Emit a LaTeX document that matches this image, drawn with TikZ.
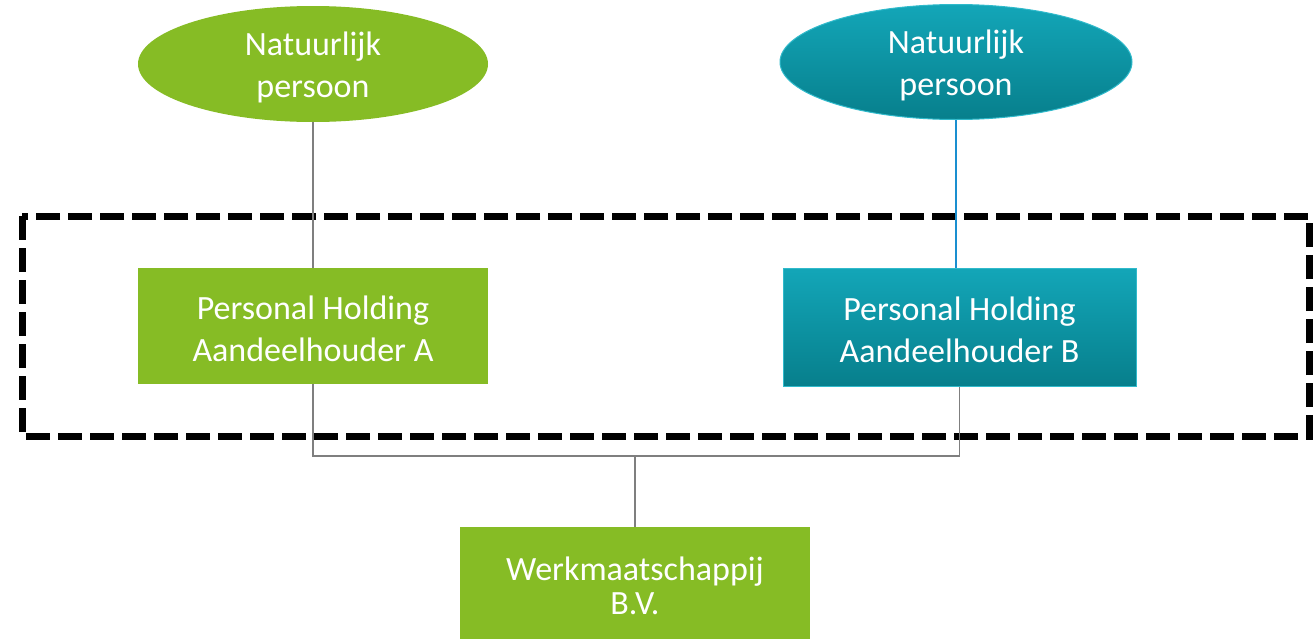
\documentclass[tikz,border=0pt]{standalone}
\usepackage{fontspec}
\setmainfont{Carlito}
\usetikzlibrary{shapes.geometric}
\definecolor{lgreen}{HTML}{86BC25}
\definecolor{tealtop}{HTML}{13A6B8}
\definecolor{tealmid}{HTML}{0C93A3}
\definecolor{tealbot}{HTML}{077F8C}
\definecolor{tealedge}{HTML}{30BACB}
\definecolor{linegray}{HTML}{7F7F7F}
\definecolor{lineblue}{HTML}{1A8FD0}
\tikzset{
  greenfill/.style={fill=lgreen, draw=none},
  tealfill/.style={top color=tealtop, middle color=tealmid, bottom color=tealbot, draw=tealedge, line width=1pt},
  lbl/.style={text=white, align=center, inner sep=0pt, font=\fontsize{34}{42}\selectfont},
  oval/.style={ellipse, minimum width=350pt, minimum height=116pt},
  boxx/.style={rectangle, minimum width=350pt, minimum height=116pt},
  conn/.style={draw=linegray, line width=1.5pt},
  connb/.style={draw=lineblue, line width=1.2pt},
  frame/.style={draw=black, line width=7pt, dash pattern=on 24pt off 8pt, line join=miter}
}
\begin{document}
\begin{tikzpicture}[x=1pt, y=-1pt]
\useasboundingbox (0,0) rectangle (1315,640);
\draw[frame] (22,216) rectangle (1309,436);
\node[oval, greenfill] (pa) at (313,64) {};
\node[lbl] (pat) at (313,67) {Natuurlijk\\persoon};
\node[oval, tealfill, minimum width=352pt, minimum height=115pt] (pb) at (956,62) {};
\node[lbl] (pbt) at (956,65.5) {Natuurlijk\\persoon};
\node[boxx, greenfill] (ha) at (313,326) {};
\node[lbl] (hat) at (313,329) {Personal Holding\\Aandeelhouder A};
\node[boxx, tealfill, minimum width=353pt, minimum height=118pt] (hb) at (959.5,327) {};
\node[lbl] (hbt) at (959.5,330) {Personal Holding\\Aandeelhouder B};
\node[boxx, greenfill, minimum height=112pt] (wm) at (635,583) {};
\node[lbl, font=\fontsize{34}{34}\selectfont] (wmt) at (635,586) {Werkmaatschappij\\B.V.};
\coordinate (bus) at (635,456);
\draw[conn] (pa.south) -- (ha.north);
\draw[connb] (pb.south) -- (pb.south |- hb.north);
\draw[conn] (ha.south) -- (ha.south |- bus) -- (hb.south |- bus) -- (hb.south);
\draw[conn] (bus) -- (wm.north);
\end{tikzpicture}
\end{document}
